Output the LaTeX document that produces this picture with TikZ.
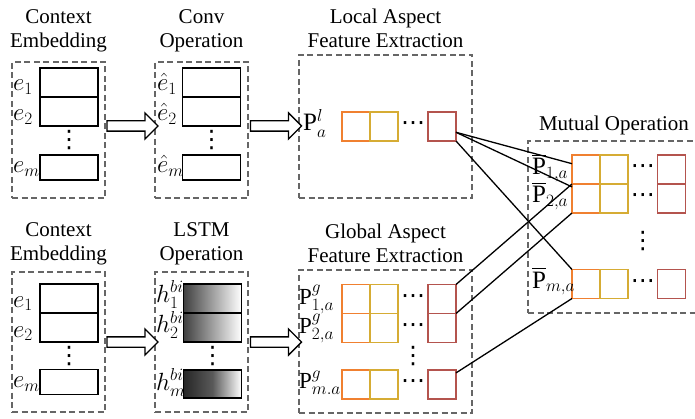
\documentclass[tikz,border=0pt]{standalone}
\usepackage{fontspec}
\setmainfont{Liberation Serif}
\newfontfamily\dotfont{DejaVu Sans}
\usepackage{amsmath}
\usepackage{xcolor}
\usetikzlibrary{positioning, calc, shapes.arrows}

\definecolor{cellorange}{RGB}{240,128,48}
\definecolor{cellgold}{RGB}{214,172,52}
\definecolor{cellred}{RGB}{180,84,78}

\begin{document}
\begin{tikzpicture}[
    x=1pt, y=-1pt,
    panel/.style={rectangle, draw=black!60, dash pattern=on 6pt off 3.5pt, line width=1.3pt, inner sep=0pt, outer sep=0pt},
    title/.style={align=center, inner sep=0pt, font=\fontsize{21}{24}\selectfont},
    cell/.style={rectangle, draw=black, line width=1.5pt, minimum width=58pt, minimum height=29pt, inner sep=0pt, outer sep=0pt},
    gcell/.style={cell, left color=black!75, right color=white},
    fcell/.style={rectangle, line width=1.6pt, minimum width=28pt, minimum height=29pt, inner sep=0pt, outer sep=0pt},
    ocell/.style={fcell, draw=cellorange},
    ycell/.style={fcell, draw=cellgold},
    rcell/.style={fcell, draw=cellred},
    lab/.style={inner sep=0pt, anchor=base west, font=\fontsize{25}{28}\selectfont},
    slab/.style={lab, font=\fontsize{23}{26}\selectfont},
    dots/.style={inner sep=0pt, font=\dotfont\fontsize{24}{24}\selectfont},
    harrow/.style={single arrow, draw=black, line width=1.3pt, fill=white, inner xsep=0pt, inner ysep=4.5pt, minimum height=51pt, single arrow head extend=8pt},
    link/.style={draw=black, line width=1.3pt}
]
    \useasboundingbox (0,0) rectangle (695,419);

    % Context embedding (top)
    \node (ctxA) [panel, minimum width=93pt, minimum height=136pt] at (58.5,130) {};
    \node (ctxAt) [title, above=10pt of ctxA] {Context\\Embedding};
    \node (ctxA1) [cell] at (69,82.5) {};
    \node (ctxA2) [cell, below=0pt of ctxA1] {};
    \node (ctxAm) [cell, minimum height=25pt] at (69,167.5) {};
    \node (ctxAd) [dots] at ($(ctxA2.south)!0.5!(ctxAm.north)$) {⋮};
    \node (ctxAl1) [lab] at ($(ctxA.west |- ctxA1)+(1,8.5)$) {$e_1$};
    \node (ctxAl2) [lab] at ($(ctxA.west |- ctxA2)+(1,9.5)$) {$e_2$};
    \node (ctxAlm) [lab] at ($(ctxA.west |- ctxAm)+(1,5.5)$) {$e_m$};

    % Conv operation
    \node (conv) [panel, minimum width=93pt, minimum height=136pt] at (201.5,130) {};
    \node (convt) [title, above=10pt of conv] {Conv\\Operation};
    \node (conv1) [cell] at (211.5,82.5) {};
    \node (conv2) [cell, below=0pt of conv1] {};
    \node (convm) [cell, minimum height=25pt] at (211.5,167.5) {};
    \node (convd) [dots] at ($(conv2.south)!0.5!(convm.north)$) {⋮};
    \node (convl1) [lab] at ($(conv.west |- conv1)+(2,8.5)$) {$\hat{e}_1$};
    \node (convl2) [lab] at ($(conv.west |- conv2)+(2,9.5)$) {$\hat{e}_2$};
    \node (convlm) [lab] at ($(conv.west |- convm)+(2,5.5)$) {$\hat{e}_m$};

    % Local aspect features
    \node (loc) [panel, minimum width=173pt, minimum height=143pt] at (385.5,126.5) {};
    \node (loct) [title, above=7pt of loc] {Local Aspect\\Feature Extraction};
    \node (loco) [ocell] at (356,126.5) {};
    \node (locy) [ycell, right=0pt of loco] {};
    \node (locr) [rcell] at (442,126.5) {};
    \node (locd) [dots] at ($(locy.east)!0.5!(locr.west)$) {⋯};
    \node (locl) [lab] at ($(loc.west |- loco)+(4,4.5)$) {$\mathrm{P}^{l}_{a}$};

    % Context embedding (bottom)
    \node (ctxB) [panel, minimum width=93pt, minimum height=140pt] at (58.5,342) {};
    \node (ctxBt) [title, above=6.5pt of ctxB] {Context\\Embedding};
    \node (ctxB1) [cell] at (69,298.5) {};
    \node (ctxB2) [cell, below=0pt of ctxB1] {};
    \node (ctxBm) [cell, minimum height=25pt] at (69,382) {};
    \node (ctxBd) [dots] at ($(ctxB2.south)!0.5!(ctxBm.north)$) {⋮};
    \node (ctxBl1) [lab] at ($(ctxB.west |- ctxB1)+(1,8.5)$) {$e_1$};
    \node (ctxBl2) [lab] at ($(ctxB.west |- ctxB2)+(1,9.5)$) {$e_2$};
    \node (ctxBlm) [lab] at ($(ctxB.west |- ctxBm)+(1,5.5)$) {$e_m$};

    % LSTM operation
    \node (lstm) [panel, minimum width=93pt, minimum height=140pt] at (201.5,342) {};
    \node (lstmt) [title, above=6.5pt of lstm] {LSTM\\Operation};
    \node (lstm1) [gcell] at (212.5,298.5) {};
    \node (lstm2) [gcell, below=0pt of lstm1] {};
    \node (lstmm) [gcell, minimum height=28pt, left color=black!85, middle color=black!65] at (212.5,384) {};
    \node (lstmd) [dots] at ($(lstm2.south)!0.5!(lstmm.north)$) {⋮};
    \node (lstml1) [slab] at ($(lstm.west |- lstm1)+(1,3.5)$) {$h^{bi}_{1}$};
    \node (lstml2) [slab] at ($(lstm.west |- lstm2)+(1,5)$) {$h^{bi}_{2}$};
    \node (lstmlm) [slab] at ($(lstm.west |- lstmm)+(1,6)$) {$h^{bi}_{m}$};

    % Global aspect features
    \node (glo) [panel, minimum width=173pt, minimum height=143pt] at (385.5,341.5) {};
    \node (glot) [title, above=7pt of glo] {Global Aspect\\Feature Extraction};
    \node (glo1o) [ocell] at (356,299) {};
    \node (glo1y) [ycell, right=0pt of glo1o] {};
    \node (glo1r) [rcell] at (442,299) {};
    \node (glo2o) [ocell, below=0pt of glo1o] {};
    \node (glo2y) [ycell, right=0pt of glo2o] {};
    \node (glo2r) [rcell, below=0pt of glo1r] {};
    \node (glomo) [ocell] at (356,384.5) {};
    \node (glomy) [ycell, right=0pt of glomo] {};
    \node (glomr) [rcell] at (442,384.5) {};
    \node (glo1d) [dots] at ($(glo1y.east)!0.5!(glo1r.west)$) {⋯};
    \node (glo2d) [dots] at ($(glo2y.east)!0.5!(glo2r.west)$) {⋯};
    \node (glomd) [dots] at ($(glomy.east)!0.5!(glomr.west)$) {⋯};
    \node (glovd) [dots] at ($(glo2d)!0.5!(glomd)$) {⋮};
    \node (glol1) [slab] at ($(glo.west |- glo1o)+(0,5)$) {$\mathrm{P}^{g}_{1,a}$};
    \node (glol2) [slab] at ($(glo.west |- glo2o)+(0,5)$) {$\mathrm{P}^{g}_{2,a}$};
    \node (glolm) [slab] at ($(glo.west |- glomo)+(0,3.5)$) {$\mathrm{P}^{g}_{m.a}$};

    % Mutual operation
    \node (mut) [panel, minimum width=172pt, minimum height=172pt] at (614,227) {};
    \node (mutt) [title, above=6pt of mut] {Mutual Operation};
    \node (mut1o) [ocell] at (586,169.5) {};
    \node (mut1y) [ycell, right=0pt of mut1o] {};
    \node (mut1r) [rcell] at (671.5,169.5) {};
    \node (mut2o) [ocell, below=0pt of mut1o] {};
    \node (mut2y) [ycell, right=0pt of mut2o] {};
    \node (mut2r) [rcell, below=0pt of mut1r] {};
    \node (mutmo) [ocell] at (586,284) {};
    \node (mutmy) [ycell, right=0pt of mutmo] {};
    \node (mutmr) [rcell] at (671.5,284) {};
    \node (mut1d) [dots] at ($(mut1y.east)!0.5!(mut1r.west)$) {⋯};
    \node (mut2d) [dots] at ($(mut2y.east)!0.5!(mut2r.west)$) {⋯};
    \node (mutmd) [dots] at ($(mutmy.east)!0.5!(mutmr.west)$) {⋯};
    \node (mutvd) [dots] at ($(mut2d)!0.5!(mutmd)$) {⋮};
    \node (mutl1) [lab] at ($(mut.west |- mut1o)+(4,5.5)$) {$\overline{\mathrm{P}}_{1,a}$};
    \node (mutl2) [lab] at ($(mut.west |- mut2o)+(4,4.5)$) {$\overline{\mathrm{P}}_{2,a}$};
    \node (mutlm) [lab] at ($(mut.west |- mutmo)+(4,4)$) {$\overline{\mathrm{P}}_{m,a}$};

    % Hollow arrows
    \path (ctxA.east |- ctxA2.south) -- (conv.west |- ctxA2.south) node [harrow, midway] (arA) {};
    \path (conv.east |- conv2.south) -- (loc.west |- conv2.south) node [harrow, midway] (arB) {};
    \path (ctxB.east |- ctxB2.south) -- (lstm.west |- ctxB2.south) node [harrow, midway] (arC) {};
    \path (lstm.east |- lstm2.south) -- (glo.west |- lstm2.south) node [harrow, midway] (arD) {};

    % Links
    \draw [link] ($(locr.east)!0.4!(locr.south east)$) -- ($(mut1o.north west)!0.3!(mut1o.south west)$);
    \draw [link] ($(locr.east)!0.4!(locr.south east)$) -- ($(mut2o.north west)!0.1!(mut2o.south west)$);
    \draw [link] (locr.south east) -- (mutmo.north west);
    \draw [link] (glo1r.north east) -- (mut1o.south west);
    \draw [link] (glo2r.north east) -- (mut2o.south west);
    \draw [link] ($(glomr.north east)!0.1!(glomr.south east)$) -- (mutmo.south west);

\end{tikzpicture}
\end{document}
